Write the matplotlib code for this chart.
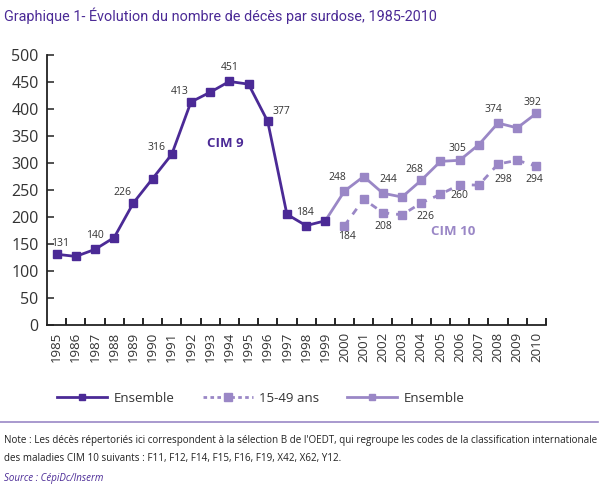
import numpy as np
import matplotlib
matplotlib.use('Agg')
import matplotlib.pyplot as plt
from matplotlib.lines import Line2D

plt.rcParams['font.family'] = ['Open Sans', 'DejaVu Sans']

# data
years_cim9 = list(range(1985, 2000))
ens_cim9 = [131, 127, 140, 162, 226, 271, 316, 413, 431, 451, 446, 377, 205, 184, 193]
lab_cim9 = {1985: 131, 1987: 140, 1989: 226, 1991: 316, 1992: 413, 1994: 451, 1996: 377, 1998: 184}

years_cim10 = list(range(1999, 2011))
ens_cim10 = [193, 248, 275, 244, 237, 268, 303, 305, 334, 374, 365, 392]
lab_ens10 = {2000: 248, 2002: 244, 2004: 268, 2006: 305, 2008: 374, 2010: 392}

years_1549 = list(range(2000, 2011))
jeunes = [184, 233, 208, 204, 226, 242, 260, 259, 298, 305, 294]
lab_1549 = {2000: 184, 2002: 208, 2004: 226, 2006: 260, 2008: 298, 2010: 294}

# label offsets in pixels (dx, dy)
off = {
    ('a', 1985): (3, 11), ('a', 1987): (0, 14), ('a', 1989): (-11, 10), ('a', 1991): (-15, 7),
    ('a', 1992): (-11, 10), ('a', 1994): (0, 14), ('a', 1996): (14, 10), ('a', 1998): (-1, 13),
    ('b', 2000): (-7, 14), ('b', 2002): (5, 14), ('b', 2004): (-7, 11), ('b', 2006): (-2, 12),
    ('b', 2008): (-5, 14), ('b', 2010): (-4, 11),
    ('c', 2000): (2, -11), ('c', 2002): (0, -14), ('c', 2004): (4, -14), ('c', 2006): (0, -11),
    ('c', 2008): (5, -15), ('c', 2010): (-2, -13),
}

dark = '#4b2a96'
light = '#9a87c6'
txt = '#333333'

fig = plt.figure(figsize=(6, 4.93), dpi=100)
ax = fig.add_axes([47/600, 1-325/493, (546-47)/600, (325-55)/493])

ax.plot(years_1549, jeunes, color=light, lw=2.0, ls=(0, (2.5, 2.5)), marker='s', ms=6.3)
ax.plot(years_cim10, ens_cim10, color=light, lw=2.0, marker='s', ms=6.3, markevery=range(1, 12))
ax.plot(years_cim9, ens_cim9, color=dark, lw=2.0, marker='s', ms=6.3)

for key, labs in (('a', lab_cim9), ('b', lab_ens10), ('c', lab_1549)):
    for y, v in labs.items():
        ax.annotate(str(v), (y, v), xytext=off[(key, y)], textcoords='offset pixels',
                    ha='center', va='center', fontsize=7.5, color=txt)

ax.text(1993.78, 337, 'CIM 9', color=dark, fontsize=9.5, fontweight='bold', ha='center', va='center')
ax.text(2005.66, 174, 'CIM 10', color=light, fontsize=9.5, fontweight='bold', ha='center', va='center')

ax.set_xlim(1984.5, 2010.5)
ax.set_ylim(0, 500)
ax.set_yticks(np.arange(0, 501, 50))
ax.set_xticks(range(1985, 2011))
ax.set_xticklabels([str(y) for y in range(1985, 2011)], rotation=90, fontsize=9.5, color=txt)
ax.set_xticks(np.arange(1985.5, 2010.6, 1), minor=True)
ax.tick_params(axis='x', which='major', length=0, pad=5)
ax.tick_params(axis='x', which='minor', direction='in', length=5, width=1.2)
ax.tick_params(axis='y', direction='in', length=5, width=1.2, labelsize=11.5, colors=txt, pad=6)
for s in ['top', 'right']:
    ax.spines[s].set_visible(False)
for s in ['left', 'bottom']:
    ax.spines[s].set_linewidth(1.3)
    ax.spines[s].set_color('#222222')

handles = [
    Line2D([], [], color=dark, lw=2.0, marker='s', ms=5),
    Line2D([], [], color=light, lw=2.0, ls=(0, (1.3, 1.2)), marker='s', ms=5.5),
    Line2D([], [], color=light, lw=2.0, marker='s', ms=5),
]
fig.legend(handles, ['Ensemble', '15-49 ans', 'Ensemble'], ncol=3, frameon=False,
           loc='center', bbox_to_anchor=(0.435, 1-398/493), handlelength=3.8,
           handletextpad=0.5, columnspacing=2.1, fontsize=9.5, labelcolor=txt)

fig.text(0.007, 1-16/493, 'Graphique 1- Évolution du nombre de décès par surdose, 1985-2010',
         color=dark, fontsize=10.4, va='center', family=['Roboto', 'DejaVu Sans'])
fig.add_artist(Line2D([0, 0.997], [1-422/493, 1-422/493], color=light, lw=1.2))
fig.text(0.007, 1-441/493, "Note : Les décès répertoriés ici correspondent à la sélection B de l'OEDT, qui regroupe les codes de la classification internationale",
         fontsize=7.1, color='#222222', va='center')
fig.text(0.007, 1-458/493, 'des maladies CIM 10 suivants : F11, F12, F14, F15, F16, F19, X42, X62, Y12.',
         fontsize=7.1, color='#222222', va='center')
fig.text(0.007, 1-478/493, 'Source : CépiDc/Inserm', fontsize=7, color=dark, style='italic', va='center')

fig.savefig('out.png', dpi=100)
